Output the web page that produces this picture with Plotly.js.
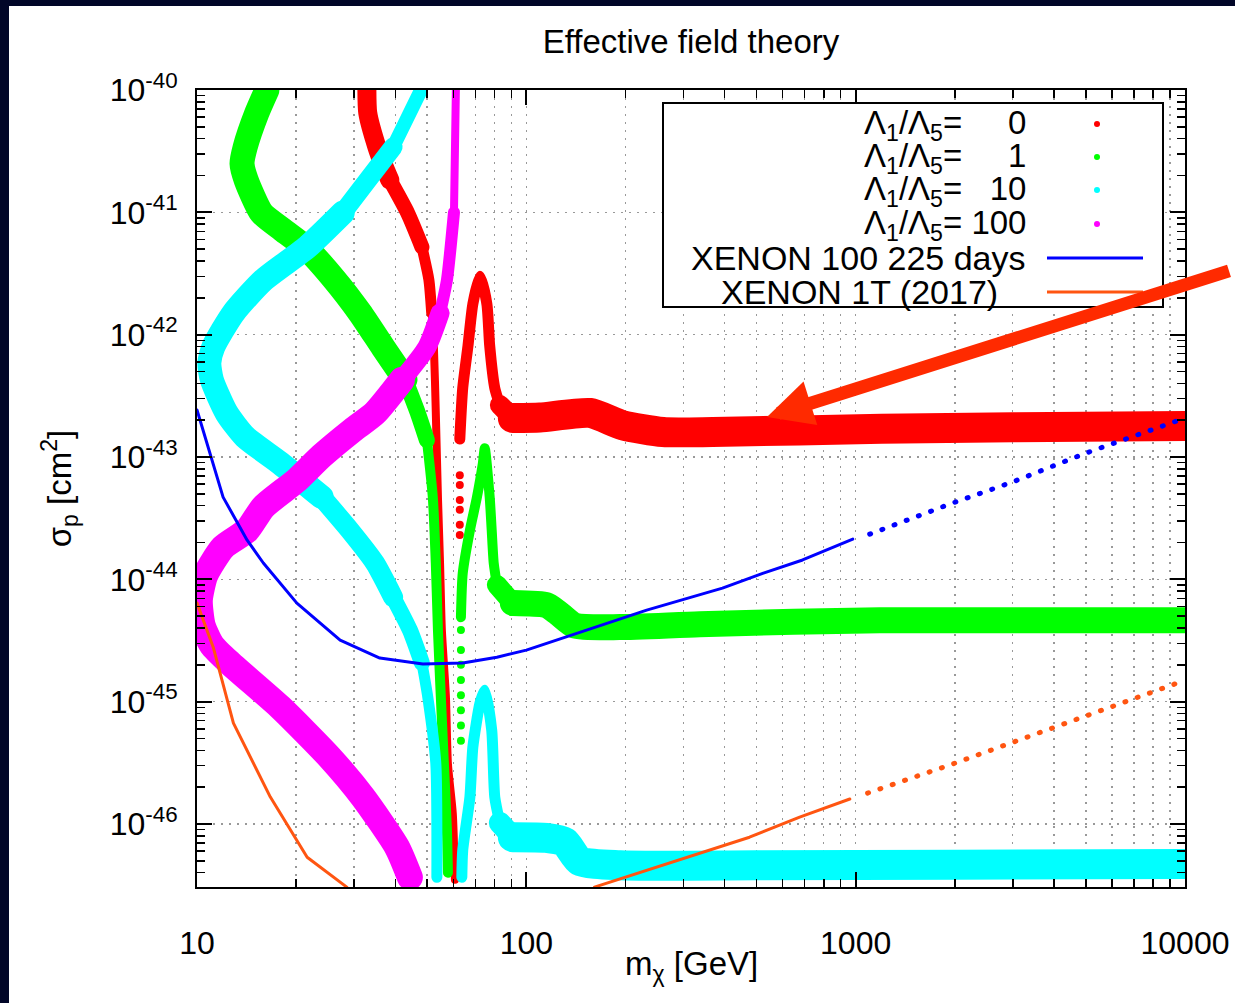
<!DOCTYPE html>
<html>
<head>
<meta charset="utf-8">
<script src="https://cdn.plot.ly/plotly-3.0.1.min.js"></script>
<style>
html,body{margin:0;padding:0;background:#010628;}
#chart{width:1235px;height:1003px;}
.scatterlayer path.js-line{stroke-linecap:round;stroke-linejoin:round;}
</style>
</head>
<body>
<div id="chart"></div>
<script>
// ---------- data ----------
const xTickVals = [10, 100, 1000, 10000];
const xTickText = ['10', '100', '1000', '10000'];
const yTickVals = [1e-46, 1e-45, 1e-44, 1e-43, 1e-42, 1e-41, 1e-40];
const yTickText = ['10<sup>-46</sup>', '10<sup>-45</sup>', '10<sup>-44</sup>', '10<sup>-43</sup>', '10<sup>-42</sup>', '10<sup>-41</sup>', '10<sup>-40</sup>'];

// Lambda1/Lambda5 = 0 (red)
const redLeftX = [32.8, 33.0, 35.2, 36.7, 38.5, 43.6, 48.2, 50.6, 51.6, 52.4, 53.1, 53.9, 54.7, 55.4, 57.0, 57.8, 59.8, 60.7];
const redLeftY = [1e-40, 6.5e-41, 3.4e-41, 2.5e-41, 1.84e-41, 9.9e-42, 5.2e-42, 2.8e-42, 1.5e-42, 7.9e-43, 2.3e-43, 4.7e-44, 1.36e-44, 3.85e-45, 1.09e-45, 3.1e-46, 1.22e-46, 3.5e-47];
const redRightX = [62.8, 64.1, 66.5, 68.8, 72.3, 75.9, 77.4, 80.2, 83.1, 91, 110, 156, 196, 260, 368, 1200, 3000, 10000];
const redRightY = [1.4e-43, 3.66e-43, 8.1e-43, 1.78e-42, 3.0e-42, 1.78e-42, 8.1e-43, 3.66e-43, 2.66e-43, 2.08e-43, 2.1e-43, 2.29e-43, 1.82e-43, 1.6e-43, 1.6e-43, 1.7e-43, 1.75e-43, 1.79e-43];
const redDotsX = [62.8, 62.8, 62.8, 62.8, 62.8, 62.8];
const redDotsY = [7.1e-44, 5.9e-44, 4.45e-44, 3.7e-44, 2.8e-44, 2.3e-44];

// Lambda1/Lambda5 = 1 (green)
const greenLeftX = [16.3, 15.2, 14.0, 13.7, 14.1, 15.7, 18.2, 21.3, 26.2, 31.3, 36.7, 42.8, 46.8, 49.9, 52.0, 53.1, 53.9, 55.0, 56.2, 57.4, 57.8];
const greenLeftY = [1e-40, 6.5e-41, 3.4e-41, 2.5e-41, 1.84e-41, 9.9e-42, 7.2e-42, 5.2e-42, 2.8e-42, 1.5e-42, 7.9e-43, 4.3e-43, 2.3e-43, 1.37e-43, 4.7e-44, 1.36e-44, 3.85e-45, 1.09e-45, 3.1e-46, 8.9e-47, 4.0e-47];
const greenRightX = [63.3, 64.1, 67.4, 70.8, 73.8, 74.8, 77.4, 78.5, 79.6, 81.4, 91, 115, 124, 140, 192, 336, 1183, 10000];
const greenRightY = [4.9e-45, 1.12e-44, 2.52e-44, 4.7e-44, 8.9e-44, 1.18e-43, 4.7e-44, 2.52e-44, 1.36e-44, 9.0e-45, 6.4e-45, 6.15e-45, 5.4e-45, 4.2e-45, 4.07e-45, 4.3e-45, 4.64e-45, 4.64e-45];
const greenDotsX = [63.3, 63.3, 63.3, 63.3, 63.3, 63.3, 63.3, 63.3];
const greenDotsY = [3.85e-45, 2.64e-45, 2.0e-45, 1.5e-45, 1.13e-45, 8.5e-46, 6.4e-46, 4.8e-46];

// Lambda1/Lambda5 = 10 (cyan)
const cyanLeftX = [47.9, 39.4, 33.0, 27.7, 21.6, 15.9, 12.9, 11.2, 10.9, 11.1, 12.3, 14.0, 17.9, 23.9, 29.1, 34.7, 39.4, 44.3, 48.2, 50.2, 53.1, 53.5];
const cyanLeftY = [1e-40, 3.42e-41, 1.84e-41, 9.9e-42, 5.2e-42, 2.79e-42, 1.5e-42, 7.9e-43, 5.86e-43, 4.26e-43, 2.29e-43, 1.46e-43, 8.9e-44, 4.7e-44, 2.52e-44, 1.36e-44, 7.15e-45, 3.85e-45, 2.07e-45, 1.09e-45, 3.14e-46, 3.67e-47];
const cyanRightX = [63.7, 64.1, 67.4, 68.8, 72.3, 74.8, 78.5, 80.2, 83.1, 91, 115, 131, 145, 192, 500, 2000, 10000];
const cyanRightY = [3.67e-47, 6.1e-47, 1.66e-46, 4.25e-46, 9.7e-46, 1.24e-45, 5.85e-46, 1.66e-46, 1.02e-46, 7.8e-47, 7.7e-47, 7.1e-47, 5.0e-47, 4.6e-47, 4.6e-47, 4.65e-47, 4.7e-47];

// Lambda1/Lambda5 = 100 (magenta)
const magentaX = [61.1, 60.3, 57.4, 54.7, 49.9, 41.9, 34.7, 29.7, 23.9, 20.1, 15.9, 14.2, 12.0, 10.6, 10.2, 10.4, 11.1, 12.6, 17.9, 25.3, 31.9, 40.5, 44.3];
const magentaY = [1e-40, 1e-41, 2.79e-42, 1.5e-42, 7.9e-43, 4.26e-43, 2.29e-43, 1.66e-43, 1.02e-43, 6.47e-44, 3.9e-44, 2.52e-44, 1.83e-44, 1.08e-44, 6.76e-45, 4.22e-45, 2.9e-45, 2.06e-45, 9.0e-46, 3.5e-46, 1.66e-46, 6.46e-47, 3.67e-47];

// XENON 100 225 days (blue)
const xenon100X = [10, 12.0, 14.2, 15.9, 20.1, 27.2, 35.9, 48.5, 64.1, 81.4, 100, 145, 232, 394, 522, 690, 980];
const xenon100Y = [2.42e-43, 4.7e-44, 2.09e-44, 1.36e-44, 6.39e-45, 3.18e-45, 2.27e-45, 2.03e-45, 2.07e-45, 2.31e-45, 2.64e-45, 3.7e-45, 5.6e-45, 8.47e-45, 1.12e-44, 1.44e-44, 2.13e-44];
const xenon100ExtX = [1103, 1968, 2992, 5020, 10000];
const xenon100ExtY = [2.34e-44, 4.2e-44, 6.24e-44, 1.08e-43, 2.08e-43];

// XENON 1T (2017) (orange)
const xenon1tLowX = [10, 11.2, 12.9, 16.7, 21.6, 28.5];
const xenon1tLowY = [6.39e-45, 2.79e-45, 6.67e-46, 1.66e-46, 5.35e-47, 3.05e-47];
const xenon1tHighX = [161, 476, 676, 960];
const xenon1tHighY = [3.05e-47, 7.8e-47, 1.14e-46, 1.6e-46];
const xenon1tExtX = [1087, 1927, 4887, 9620];
const xenon1tExtY = [1.79e-46, 3.03e-46, 7.47e-46, 1.44e-45];

const legendRatioLabel = '\u039B<sub>1</sub>/\u039B<sub>5</sub>=';
const legendValues = ['0', '1', '10', '100'];
const legendLineLabels = ['XENON 100 225 days', 'XENON 1T (2017)'];
const xAxisTitle = 'm<sub>\u03C7</sub> [GeV]';
const yAxisTitle = '\u03C3<sub>p</sub> [cm<sup>2</sup>]';
const chartTitle = 'Effective field theory';

// ---------- styling ----------
const C = {red: '#ff0000', green: '#00ff00', cyan: '#00ffff', magenta: '#ff00ff', blue: '#0000ff', orange: '#ff5511', arrow: '#ff2a00'};
const FONT = 'Liberation Sans, Arial, Helvetica, sans-serif';

function band(xs, ys, segs, color) {
  return segs.map(s => ({
    type: 'scatter', mode: 'lines',
    x: xs.slice(s[0], s[1] + 1), y: ys.slice(s[0], s[1] + 1),
    line: {color: color, width: s[2], shape: 'spline', smoothing: 0.6},
    hoverinfo: 'skip', showlegend: false
  }));
}
function dots(xs, ys, color, size) {
  return {type: 'scatter', mode: 'markers', x: xs, y: ys,
    marker: {color: color, size: size, line: {width: 0}}, hoverinfo: 'skip', showlegend: false};
}
function line(xs, ys, color, width, dash) {
  return {type: 'scatter', mode: 'lines', x: xs, y: ys,
    line: {color: color, width: width, dash: dash || 'solid'}, hoverinfo: 'skip', showlegend: false};
}

const traces = [].concat(
  band(redLeftX, redLeftY, [[0, 4, 19], [4, 6, 15], [6, 8, 11], [8, 17, 8]], C.red),
  band(redRightX, redRightY, [[0, 8, 11], [8, 9, 20], [9, 17, 30]], C.red),
  [dots(redDotsX, redDotsY, C.red, 8)],
  band(greenLeftX, greenLeftY, [[0, 11, 25], [11, 13, 16], [13, 20, 10]], C.green),
  band(greenRightX, greenRightY, [[0, 9, 10], [9, 10, 20], [10, 17, 26]], C.green),
  [dots(greenDotsX, greenDotsY, C.green, 8)],
  band(cyanLeftX, cyanLeftY, [[0, 1, 14], [1, 3, 19], [3, 13, 24], [13, 16, 20], [16, 18, 16], [18, 21, 11]], C.cyan),
  band(cyanRightX, cyanRightY, [[0, 8, 11], [8, 9, 22], [9, 16, 30]], C.cyan),
  band(magentaX, magentaY, [[0, 1, 8], [1, 3, 12], [3, 5, 19], [5, 22, 26]], C.magenta),
  [line(xenon100X, xenon100Y, C.blue, 3),
   line(xenon100ExtX, xenon100ExtY, C.blue, 5, '1px,12px'),
   line(xenon1tLowX, xenon1tLowY, C.orange, 3),
   line(xenon1tHighX, xenon1tHighY, C.orange, 3),
   line(xenon1tExtX, xenon1tExtY, C.orange, 5, '1px,12px')]
);

// plot area in pixels: x 197..1185, y 90..887
const L = 197, R = 1185, T = 90, B = 887, W = 1235, H = 1003;
const px = v => (v - L) / (R - L);
const py = v => (B - v) / (B - T);

const shapes = [
  {type: 'rect', xref: 'paper', yref: 'paper', x0: px(9), x1: px(1260), y0: py(1040), y1: py(6),
   fillcolor: '#ffffff', line: {width: 0}, layer: 'below'},
  {type: 'rect', xref: 'paper', yref: 'paper', x0: px(663), x1: px(1163), y0: py(307), y1: py(103),
   fillcolor: '#ffffff', line: {color: '#000000', width: 2}, layer: 'above'}
];
const dotColors = [C.red, C.green, C.cyan, C.magenta];
const rowY = [124, 157, 190, 224, 258, 292];
const lineLabelRight = [1028, 1000];
dotColors.forEach((c, i) => {
  shapes.push({type: 'circle', xref: 'paper', yref: 'paper', xsizemode: 'pixel', ysizemode: 'pixel',
    xanchor: px(1097), yanchor: py(rowY[i]), x0: -3, x1: 3, y0: -3, y1: 3,
    fillcolor: c, line: {width: 0}, layer: 'above'});
});
[C.blue, C.orange].forEach((c, i) => {
  shapes.push({type: 'line', xref: 'paper', yref: 'paper', x0: px(1047), x1: px(1143),
    y0: py(rowY[4 + i]), y1: py(rowY[4 + i]), line: {color: c, width: 3}, layer: 'above'});
});

const NB = '\u00a0';
const annotations = [];
legendValues.forEach((v, i) => {
  const pad = NB.repeat(1 + 2 * (3 - v.length));
  annotations.push({xref: 'paper', yref: 'paper', x: px(1028), y: py(rowY[i] + 1), xanchor: 'right', yanchor: 'middle',
    text: legendRatioLabel + pad + v, showarrow: false, font: {family: FONT, size: 33, color: '#000'}});
});
legendLineLabels.forEach((t, i) => {
  annotations.push({xref: 'paper', yref: 'paper', x: px(lineLabelRight[i]), y: py(rowY[4 + i]), xanchor: 'right', yanchor: 'middle',
    text: t, showarrow: false, font: {family: FONT, size: 34, color: '#000'}});
});
// x axis title
annotations.push({xref: 'paper', yref: 'paper', x: 0.5, y: py(966), xanchor: 'center', yanchor: 'middle',
  text: xAxisTitle, showarrow: false, font: {family: FONT, size: 33, color: '#000'}});
// the red pointer arrow
annotations.push({xref: 'paper', yref: 'paper', x: px(767), y: py(417), text: ' ', showarrow: true,
  ax: 475, ay: -148, arrowcolor: C.arrow, arrowwidth: 13, arrowhead: 2, arrowsize: 0.7, standoff: 0});

const gridDash = '2px,6px';
const layout = {
  width: W, height: H,
  paper_bgcolor: '#010628', plot_bgcolor: '#ffffff',
  margin: {l: L, r: W - R, t: T, b: H - B, pad: 0},
  font: {family: FONT, color: '#000000', size: 32},
  title: {text: chartTitle, font: {family: FONT, size: 33, color: '#000'},
    x: 0.5, xref: 'paper', xanchor: 'center', y: 1 - 41 / H, yref: 'container', yanchor: 'middle'},
  showlegend: false,
  xaxis: {
    type: 'log', range: [1, 4], tickmode: 'array', tickvals: xTickVals, ticktext: xTickText,
    ticks: 'inside', ticklen: 15, tickwidth: 2, tickcolor: '#000', mirror: 'ticks',
    showline: true, linecolor: '#000', linewidth: 2,
    showgrid: true, gridcolor: '#999999', gridwidth: 1.4, griddash: gridDash,
    minor: {dtick: 'D1', ticks: 'inside', ticklen: 8, tickwidth: 1.5, tickcolor: '#000',
      showgrid: true, gridcolor: '#999999', gridwidth: 1.4, griddash: gridDash},
    tickfont: {family: FONT, size: 32, color: '#000'}, ticklabelstandoff: 27,
    zeroline: false, automargin: false
  },
  yaxis: {
    type: 'log', range: [-46.515, -40], tickmode: 'array', tickvals: yTickVals, ticktext: yTickText,
    ticks: 'inside', ticklen: 15, tickwidth: 2, tickcolor: '#000', mirror: 'ticks',
    showline: true, linecolor: '#000', linewidth: 2,
    showgrid: true, gridcolor: '#999999', gridwidth: 1.4, griddash: gridDash,
    minor: {dtick: 'D1', ticks: 'inside', ticklen: 8, tickwidth: 1.5, tickcolor: '#000', showgrid: false},
    tickfont: {family: FONT, size: 32, color: '#000'}, ticklabelstandoff: 11,
    zeroline: false, automargin: false,
    title: {text: yAxisTitle, font: {family: FONT, size: 33, color: '#000'}, standoff: 28}
  },
  shapes: shapes,
  annotations: annotations
};

Plotly.newPlot('chart', traces, layout, {displayModeBar: false, staticPlot: true});
</script>
</body>
</html>
